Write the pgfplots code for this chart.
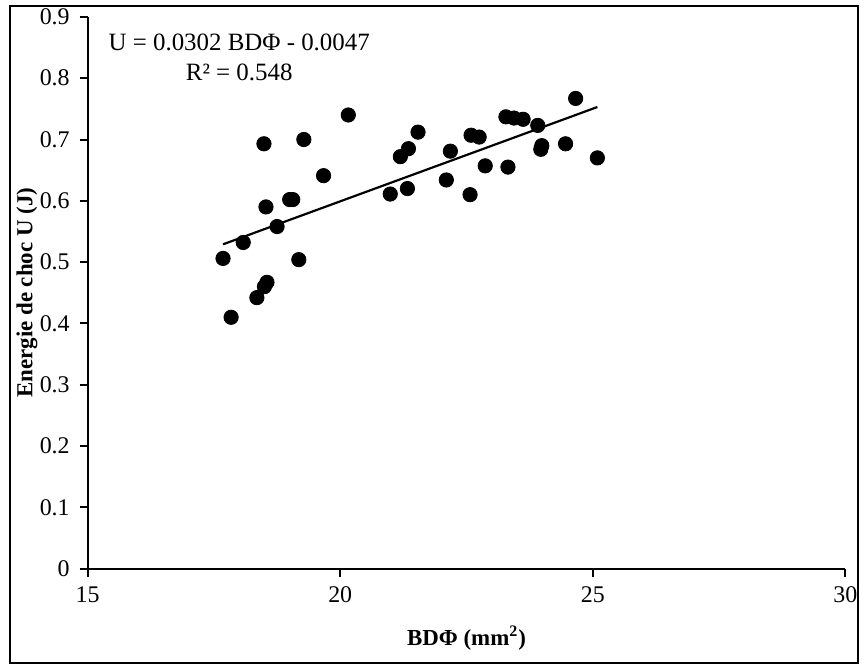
\documentclass[border=0pt]{standalone}
\usepackage{fontspec}
\setmainfont{Liberation Serif}
\usepackage{pgfplots}
\pgfplotsset{compat=1.18}

\begin{document}
\begin{tikzpicture}
\begin{axis}[
  scale only axis,
  width=380.5pt, height=277pt,
  xmin=15, xmax=30, ymin=0, ymax=0.9,
  xtick={15,20,25,30},
  ytick={0,0.1,0.2,0.3,0.4,0.5,0.6,0.7,0.8,0.9},
  yticklabels={0,0.1,0.2,0.3,0.4,0.5,0.6,0.7,0.8,0.9},
  axis lines*=left,
  axis line style={black, line width=1pt},
  tick align=outside,
  major tick length=4pt,
  tick style={black, line width=1pt},
  ticklabel style={font=\fontsize{12}{14}\selectfont},
  /pgf/number format/assume math mode=true,
  xticklabel style={yshift=-1.5pt},
  yticklabel style={xshift=-1.5pt},
  xlabel={\textbf{BDΦ (mm\textsuperscript{2})}},
  ylabel={\textbf{Energie de choc U (J)}},
  label style={font=\fontsize{11.5}{13}\selectfont},
  xlabel style={at={(axis description cs:0.5,-0.1264)}, anchor=center},
  ylabel style={at={(axis description cs:-0.0802,0.5)}, anchor=center},
  clip=false,
]
\addplot[only marks, mark=*, mark size=3.6pt, black] coordinates {
  (17.68,0.506) (17.84,0.410) (18.08,0.532) (18.35,0.442)
  (18.50,0.460) (18.55,0.467) (18.49,0.693) (18.53,0.590)
  (18.75,0.558) (19.00,0.602) (19.06,0.602) (19.18,0.504)
  (19.28,0.700) (19.67,0.641) (20.16,0.740) (20.99,0.611)
  (21.19,0.672) (21.35,0.685) (21.33,0.620) (21.54,0.712)
  (22.10,0.634) (22.18,0.681) (22.57,0.610) (22.59,0.707)
  (22.75,0.704) (22.87,0.657) (23.32,0.655) (23.28,0.737)
  (23.44,0.735) (23.62,0.733) (23.91,0.723) (23.97,0.684)
  (23.99,0.690) (24.46,0.693) (24.66,0.767) (25.09,0.670)
};
\addplot[black, line width=1.1pt] coordinates {(17.68,0.529) (25.09,0.753)};
\node[align=center, font=\fontsize{12.5}{15.5}\selectfont] at (axis cs:18.0,0.834)
  {U = 0.0302 BDΦ - 0.0047\\R² = 0.548};
\draw[black, line width=1pt] ([xshift=-39pt,yshift=-47.5pt]rel axis cs:0,0)
  rectangle ([xshift=6.5pt,yshift=5.5pt]rel axis cs:1,1);
\path ([xshift=-44pt,yshift=-49pt]rel axis cs:0,0)
  rectangle ([xshift=7.5pt,yshift=8.5pt]rel axis cs:1,1);
\end{axis}
\end{tikzpicture}
\end{document}
